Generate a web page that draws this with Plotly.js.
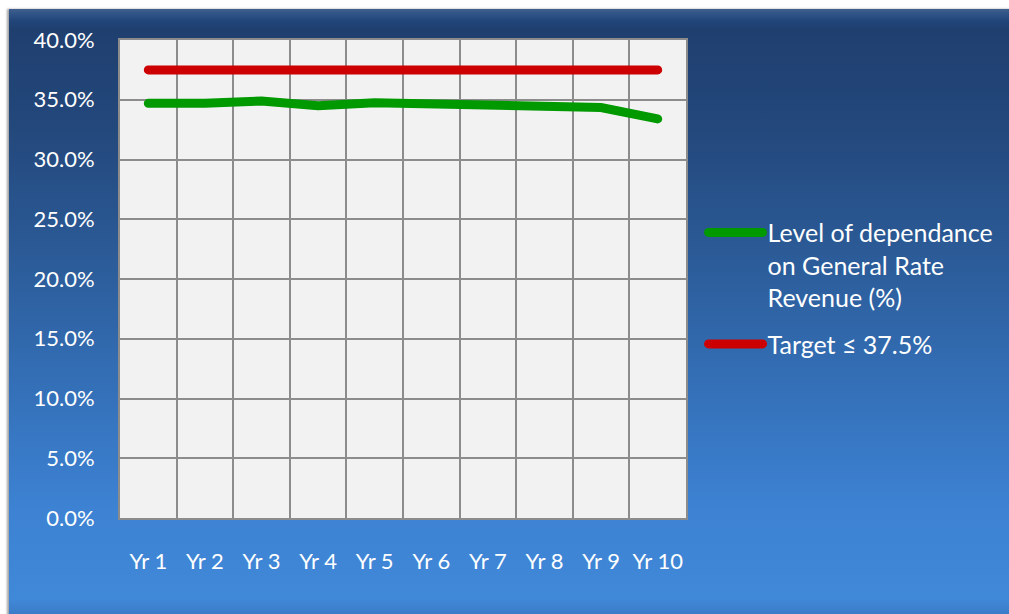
<!DOCTYPE html>
<html>
<head>
<meta charset="utf-8">
<script src="https://cdn.plot.ly/plotly-3.0.1.min.js"></script>
<style>
  html, body { margin: 0; padding: 0; background: #ffffff; }
  #frame {
    position: absolute; left: 0; top: 0; width: 1009px; height: 614px; overflow: hidden;
  }
  #panel {
    position: absolute; left: 9px; top: 9px; width: 1010px; height: 610px;
    background: linear-gradient(to bottom,
      #3f5f8e 0px, #2e5285 6px, #21457a 12px, #1f3f6f 20px,
      #23487c 120px, #2b5a96 240px, #3470b8 380px, #3d82d3 500px, #4088d8 590px, #3b7cc8 605px);
    box-shadow: -2px 0 2px rgba(90,90,90,0.55);
  }
  #chart { position: absolute; left: 0; top: 0; width: 1009px; height: 614px; }
  .scatterlayer path.js-line, .legend path.js-line { stroke-linecap: round; }
</style>
</head>
<body>
<div id="frame">
  <div id="panel"></div>
  <div id="chart"></div>
</div>
<script>
// Ten-year outlook: share of revenue coming from the general rate vs. the target ceiling
const years = ['Yr 1', 'Yr 2', 'Yr 3', 'Yr 4', 'Yr 5', 'Yr 6', 'Yr 7', 'Yr 8', 'Yr 9', 'Yr 10'];
const dependence = [34.7, 34.7, 34.9, 34.5, 34.75, 34.65, 34.55, 34.45, 34.35, 33.4];
const target = [37.5, 37.5, 37.5, 37.5, 37.5, 37.5, 37.5, 37.5, 37.5, 37.5];
const yTicks = [0, 5, 10, 15, 20, 25, 30, 35, 40];
const yTickText = yTicks.map(v => v.toFixed(1) + '%');

const fontFamily = 'Lato, "Open Sans", sans-serif';

const traces = [
  {
    x: years, y: dependence, type: 'scatter', mode: 'lines',
    name: 'Level of dependance<br>on General Rate<br>Revenue (%)',
    legendgroup: 'dependence',
    line: { color: '#009900', width: 9 },
    hoverinfo: 'skip'
  },
  {
    x: years, y: target, type: 'scatter', mode: 'lines',
    name: 'Target ≤ 37.5%',
    legendgroup: 'target',
    line: { color: '#cc0000', width: 9 },
    hoverinfo: 'skip'
  }
];

const layout = {
  width: 1009, height: 614,
  margin: { l: 120, r: 323, t: 40, b: 96, autoexpand: false },
  paper_bgcolor: 'rgba(0,0,0,0)',
  plot_bgcolor: '#f2f2f2',
  font: { family: fontFamily, color: '#ffffff', size: 22 },
  showlegend: true,
  legend: {
    x: 1.031, xanchor: 'left', y: 0.645, yanchor: 'top',
    bgcolor: 'rgba(0,0,0,0)',
    font: { family: fontFamily, size: 25, color: '#ffffff' },
    valign: 'top', itemwidth: 54, tracegroupgap: 11
  },
  xaxis: {
    type: 'category', range: [-0.5, 9.5],
    tickson: 'boundaries', tickangle: 0,
    showgrid: true, gridcolor: '#8c8c8c', gridwidth: 2,
    showline: true, linecolor: '#8c8c8c', linewidth: 2, mirror: true,
    ticks: '', ticklabelstandoff: 23,
    tickfont: { family: fontFamily, size: 22, color: '#ffffff' },
    fixedrange: true
  },
  yaxis: {
    range: [0, 40], tickvals: yTicks, ticktext: yTickText,
    showgrid: true, gridcolor: '#8c8c8c', gridwidth: 2,
    showline: true, linecolor: '#8c8c8c', linewidth: 2, mirror: true,
    zeroline: false,
    ticks: '', ticklabelstandoff: 19,
    tickfont: { family: fontFamily, size: 22, color: '#ffffff' },
    fixedrange: true
  }
};

Plotly.newPlot('chart', traces, layout, { displayModeBar: false, staticPlot: true });
</script>
</body>
</html>
